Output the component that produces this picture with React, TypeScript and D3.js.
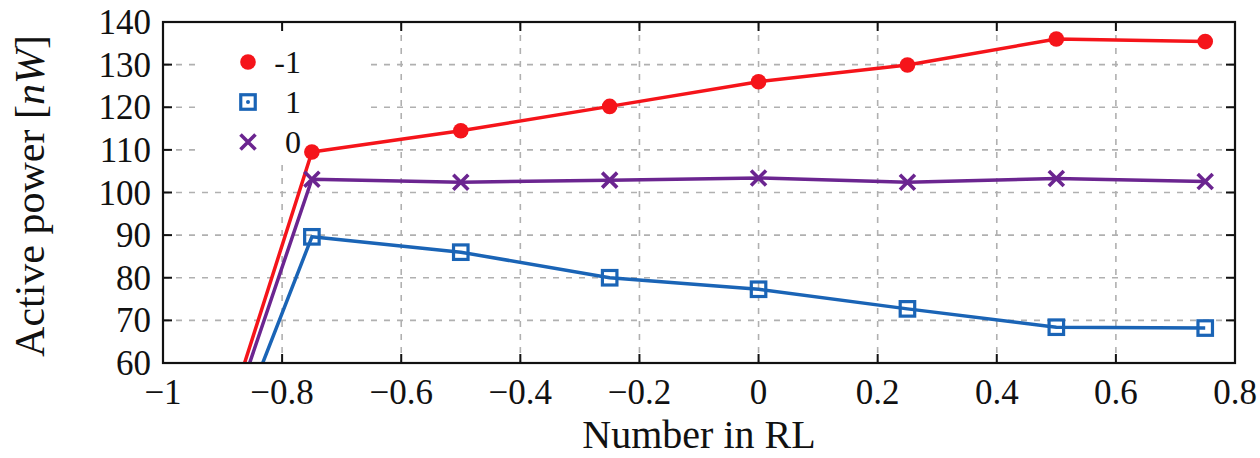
import { useRef, useEffect } from 'react';
import * as d3 from 'd3';

const xValues = [-1, -0.75, -0.5, -0.25, 0, 0.25, 0.5, 0.75];
const seriesMinus1 = [0, 109.5, 114.5, 120.2, 126, 129.9, 136, 135.4];
const seriesPlus1 = [0, 89.6, 86, 80, 77.3, 72.7, 68.4, 68.2];
const seriesZero = [0, 103.1, 102.4, 102.9, 103.4, 102.4, 103.3, 102.6];
const xTicks = [-1, -0.8, -0.6, -0.4, -0.2, 0, 0.2, 0.4, 0.6, 0.8];
const yTicks = [60, 70, 80, 90, 100, 110, 120, 130, 140];
const legendLabels = ['-1', '1', '0'];

const W = 1260;
const H = 458;
const FONT = '"Liberation Serif", "DejaVu Serif", serif';

function App() {
  const ref = useRef(null);

  useEffect(() => {
    const svg = d3.select(ref.current);
    svg.selectAll('*').remove();

    const left = 163, right = 1235, top = 22, bottom = 363;
    const x = d3.scaleLinear().domain([-1, 0.8]).range([left, right]);
    const y = d3.scaleLinear().domain([60, 140]).range([bottom, top]);

    svg.append('defs').append('clipPath').attr('id', 'plot-clip')
      .append('rect')
      .attr('x', left).attr('y', top)
      .attr('width', right - left).attr('height', bottom - top);

    // grid
    const grid = svg.append('g')
      .attr('stroke', '#b0b0b0')
      .attr('stroke-width', 1.6)
      .attr('stroke-dasharray', '6,7');
    grid.selectAll('line.gx')
      .data(xTicks.slice(1, -1))
      .join('line')
      .attr('x1', d => x(d)).attr('x2', d => x(d))
      .attr('y1', top).attr('y2', bottom);
    grid.selectAll('line.gy')
      .data(yTicks.slice(1, -1))
      .join('line')
      .attr('class', 'gy')
      .attr('x1', left).attr('x2', right)
      .attr('y1', d => y(d)).attr('y2', d => y(d));

    // legend background hides grid
    svg.append('rect')
      .attr('x', 195).attr('y', 34)
      .attr('width', 170).attr('height', 128)
      .attr('fill', 'white');

    // ticks on all sides
    const tickLen = 9;
    const ticks = svg.append('g').attr('stroke', '#111').attr('stroke-width', 2);
    xTicks.slice(1, -1).forEach(t => {
      ticks.append('line').attr('x1', x(t)).attr('x2', x(t)).attr('y1', bottom).attr('y2', bottom - tickLen);
      ticks.append('line').attr('x1', x(t)).attr('x2', x(t)).attr('y1', top).attr('y2', top + tickLen);
    });
    yTicks.slice(1, -1).forEach(t => {
      ticks.append('line').attr('x1', left).attr('x2', left + tickLen).attr('y1', y(t)).attr('y2', y(t));
      ticks.append('line').attr('x1', right).attr('x2', right - tickLen).attr('y1', y(t)).attr('y2', y(t));
    });

    // lines
    const series = [
      { label: legendLabels[0], values: seriesMinus1, color: '#f5141a', marker: 'circle' },
      { label: legendLabels[1], values: seriesPlus1, color: '#1a64b6', marker: 'square' },
      { label: legendLabels[2], values: seriesZero, color: '#6b2590', marker: 'cross' },
    ];
    const line = d3.line<number>()
      .x((_, i) => x(xValues[i]))
      .y(d => y(d));

    const plot = svg.append('g').attr('clip-path', 'url(#plot-clip)');

    function drawMarker(g, kind, color, cx, cy, legend) {
      if (kind === 'circle') {
        g.append('circle').attr('cx', cx).attr('cy', cy).attr('r', 7.8).attr('fill', color);
      } else if (kind === 'square') {
        const s = 14.5;
        g.append('rect').attr('x', cx - s / 2).attr('y', cy - s / 2)
          .attr('width', s).attr('height', s)
          .attr('fill', 'none').attr('stroke', color).attr('stroke-width', 3.2);
        if (legend) g.append('circle').attr('cx', cx).attr('cy', cy).attr('r', 2).attr('fill', color);
      } else {
        const s = 7.5;
        g.append('path')
          .attr('d', `M${cx - s},${cy - s}L${cx + s},${cy + s}M${cx - s},${cy + s}L${cx + s},${cy - s}`)
          .attr('stroke', color).attr('stroke-width', 3.6).attr('fill', 'none');
      }
    }

    [series[0], series[2], series[1]].forEach(s => {
      plot.append('path')
        .datum(s.values)
        .attr('d', line)
        .attr('fill', 'none')
        .attr('stroke', s.color)
        .attr('stroke-width', 3.5)
        .attr('stroke-linejoin', 'round');
      s.values.forEach((v, i) => {
        if (v >= 60) drawMarker(plot, s.marker, s.color, x(xValues[i]), y(v), false);
      });
    });

    // frame
    svg.append('rect')
      .attr('x', left).attr('y', top)
      .attr('width', right - left).attr('height', bottom - top)
      .attr('fill', 'none').attr('stroke', '#111').attr('stroke-width', 2.2);

    // tick labels
    const fmt = (d: number) => (d < 0 ? '\u2212' + Math.abs(d) : String(d));
    svg.append('g').selectAll('text')
      .data(xTicks)
      .join('text')
      .attr('x', d => x(d))
      .attr('y', 404)
      .attr('text-anchor', 'middle')
      .attr('font-family', FONT)
      .attr('font-size', 35)
      .attr('fill', '#111')
      .text(fmt);
    svg.append('g').selectAll('text')
      .data(yTicks)
      .join('text')
      .attr('x', 151)
      .attr('y', d => y(d) + 12)
      .attr('text-anchor', 'end')
      .attr('font-family', FONT)
      .attr('font-size', 35)
      .attr('fill', '#111')
      .text(d => String(d));

    // axis titles
    svg.append('text')
      .attr('x', 699).attr('y', 448)
      .attr('text-anchor', 'middle')
      .attr('font-family', FONT)
      .attr('font-size', 40)
      .attr('fill', '#111')
      .text('Number in RL');
    const yt = svg.append('text')
      .attr('transform', 'translate(44,196) rotate(-90)')
      .attr('text-anchor', 'middle')
      .attr('font-family', FONT)
      .attr('font-size', 42)
      .attr('fill', '#111');
    yt.append('tspan').text('Active power [');
    yt.append('tspan').attr('font-style', 'italic').text('nW');
    yt.append('tspan').text(']');

    // legend
    const leg = svg.append('g');
    series.forEach((s, i) => {
      const ly = 62 + i * 40;
      drawMarker(leg, s.marker, s.color, 248, ly, true);
      leg.append('text')
        .attr('x', 301).attr('y', ly + 11)
        .attr('text-anchor', 'end')
        .attr('font-family', FONT)
        .attr('font-size', 32)
        .attr('fill', '#111')
        .text(s.label);
    });
  }, []);

  return (
    <svg
      ref={ref}
      width={W}
      height={H}
      style={{ position: 'absolute', left: 0, top: 0, background: 'white' }}
    />
  );
}

export default App;
